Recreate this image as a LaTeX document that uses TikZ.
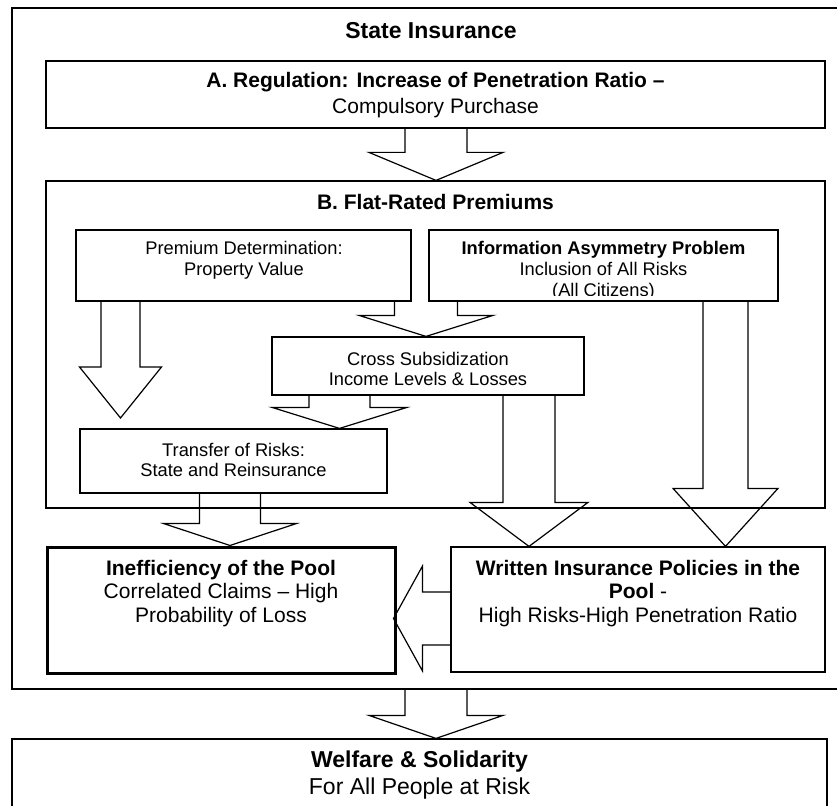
\documentclass[tikz,border=0pt]{standalone}
\usepackage{fontspec}
\setmainfont{Liberation Sans}
\usetikzlibrary{calc}

% hollow block arrow pointing down: start, tip, shaft half-width, head half-width, head length
\newcommand\downblock[5]{%
  \draw[blockarrow] let \p1=(#1), \p2=(#2) in
    (\x1-#3,\y1) -- (\x1-#3,\y2+#5) -- (\x1-#4,\y2+#5) -- (\x2,\y2)
    -- (\x1+#4,\y2+#5) -- (\x1+#3,\y2+#5) -- (\x1+#3,\y1);}
% hollow block arrow pointing left
\newcommand\leftblock[5]{%
  \draw[blockarrow] let \p1=(#1), \p2=(#2) in
    (\x1,\y1+#3) -- (\x2+#5,\y1+#3) -- (\x2+#5,\y1+#4) -- (\x2,\y2)
    -- (\x2+#5,\y1-#4) -- (\x2+#5,\y1-#3) -- (\x1,\y1-#3);}

\tikzset{
  box/.style={draw, rectangle, line width=1.2pt, inner sep=0pt},
  heavybox/.style={box, line width=3pt},
  blockarrow/.style={draw, line width=1.2pt, line join=miter},
  bigtxt/.style={align=center, inner sep=0pt, font=\fontsize{23}{27}\selectfont},
  maintxt/.style={align=center, inner sep=0pt, font=\fontsize{21}{23.5}\selectfont},
  smalltxt/.style={align=center, inner sep=0pt, font=\fontsize{18.3}{21}\selectfont},
}

\begin{document}
\begin{tikzpicture}[x=1pt,y=1pt]
\useasboundingbox (0,0) rectangle (837,-805);

% frames
\node[box, minimum width=828pt, minimum height=681pt] (outer) at (426,-348.5) {};
\node[box, minimum width=779pt, minimum height=67pt] (A) at (435.5,-94.5) {};
\node[box, minimum width=779pt, minimum height=327pt] (B) at (435.5,-344.5) {};
\node[box, minimum width=335pt, minimum height=71pt] (prem) at (243.5,-265.5) {};
\node[box, minimum width=349pt, minimum height=71pt] (info) at (603.5,-265.5) {};
\node[box, minimum width=312pt, minimum height=58pt] (cross) at (428,-366) {};
\node[box, minimum width=307pt, minimum height=64pt] (transfer) at (233.5,-461) {};
\node[heavybox, minimum width=348pt, minimum height=126pt] (ineff) at (221,-610) {};
\node[box, minimum width=374pt, minimum height=125pt] (written) at (638,-609.5) {};
\node[box, minimum width=815pt, minimum height=69pt] (welfare) at (419.5,-773.5) {};

% labels
\node[bigtxt] (outer-t) at (431,-31) {\textbf{State Insurance}};
\node[maintxt, font=\fontsize{21}{26}\selectfont] (A-t) at (435.5,-95)
  {\textbf{A. Regulation: Increase of Penetration Ratio –}\\Compulsory Purchase};
\node[maintxt] (B-t) at (435.5,-202) {\textbf{B. Flat-Rated Premiums}};
\node[smalltxt] (prem-t) at (244,-260) {Premium Determination:\\Property Value};
\begin{scope}
  \clip (info.north west) rectangle ([yshift=6pt]info.south east);
  \node[smalltxt] (info-t) at (603.5,-271)
    {\textbf{Information Asymmetry Problem}\\Inclusion of All Risks\\(All Citizens)};
\end{scope}
\node[smalltxt, font=\fontsize{18.3}{20}\selectfont] (cross-t) at (428,-369)
  {Cross Subsidization\\Income Levels \& Losses};
\node[smalltxt, font=\fontsize{18.3}{20}\selectfont] (transfer-t) at (233.5,-460)
  {Transfer of Risks:\\State and Reinsurance};
\node[maintxt] (ineff-t) at (221,-593.5)
  {\textbf{Inefficiency of the Pool}\\Correlated Claims – High\\Probability of Loss};
\node[maintxt] (written-t) at (638,-593.5)
  {\textbf{Written Insurance Policies in the}\\\textbf{Pool} -\\High Risks-High Penetration Ratio};
\node[bigtxt] (welfare-t) at (419.5,-775.5)
  {\textbf{Welfare \& Solidarity}\\For All People at Risk};

% arrow columns and free ends
\coordinate (colAB) at (436,0);
\coordinate (colP) at (120.5,0);
\coordinate (premtip) at (120.5,-418);
\coordinate (colC) at (426,0);
\coordinate (colT) at (339.5,0);
\coordinate (colCW) at (529,0);
\coordinate (colIW) at (725.5,0);
\coordinate (colTI) at (230,0);
\coordinate (colW) at (436,0);
\coordinate (rowWI) at (0,-618.5);

% block arrows
\downblock{A.south -| colAB}{B.north -| colAB}{31pt}{67pt}{28pt}
\downblock{prem.south -| colP}{premtip}{19.5pt}{41pt}{51pt}
\downblock{prem.south -| colC}{cross.north -| colC}{31.5pt}{67pt}{21pt}
\downblock{cross.south -| colT}{transfer.north -| colT}{30.5pt}{67.5pt}{21pt}
\downblock{cross.south -| colCW}{written.north -| colCW}{26pt}{59pt}{44pt}
\downblock{info.south -| colIW}{written.north -| colIW}{22.5pt}{52.5pt}{58pt}
\downblock{transfer.south -| colTI}{ineff.north -| colTI}{30.5pt}{66.5pt}{22pt}
\leftblock{written.west |- rowWI}{[xshift=-3pt]ineff.east |- rowWI}{26.5pt}{52.5pt}{29pt}
\downblock{outer.south -| colW}{welfare.north -| colW}{31pt}{67pt}{23pt}
\end{tikzpicture}
\end{document}
